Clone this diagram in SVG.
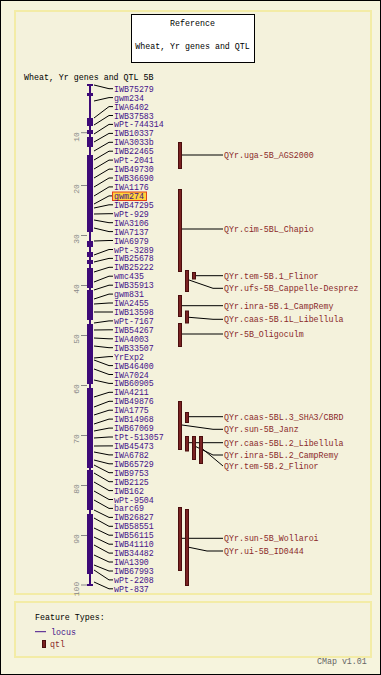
<svg xmlns="http://www.w3.org/2000/svg" width="381" height="675" viewBox="0 0 381 675">
<style>
text{font-family:"Liberation Mono","DejaVu Sans Mono",monospace;font-size:8.3px}
.t{fill:#000}
.m{fill:#45128a}
.q{fill:#8a2a2a}
.ax{fill:#888;font-size:8px}
.c{stroke:#000;stroke-width:1;fill:none}
.qb{fill:#7a2222;stroke:#4a0e0e;stroke-width:1}
.tick{stroke:#888;stroke-width:1}
.chr{fill:#3d0a78}
</style>
<rect x="0.5" y="0.5" width="380" height="674" fill="#f6f4dd" stroke="#000"/>
<rect x="15" y="11" width="356" height="583" fill="#f4f2dc" stroke="#f3eca6" stroke-width="2"/>
<rect x="15" y="602" width="356" height="55" fill="#f4f2dc" stroke="#f3eca6" stroke-width="2"/>
<g id="title">
<rect x="131.5" y="14.5" width="123" height="48" fill="#fff" stroke="#000"/>
<text class="t" x="192.5" y="26" text-anchor="middle">Reference</text>
<text class="t" x="192.5" y="49" text-anchor="middle">Wheat, Yr genes and QTL</text>
</g>
<text class="t" x="24" y="80">Wheat, Yr genes and QTL 5B</text>
<g id="axis">
<line class="tick" x1="81" y1="132.7" x2="87" y2="132.7"/><text class="ax" transform="rotate(-90 79 137)" x="79" y="137" text-anchor="middle">10</text>
<line class="tick" x1="81" y1="185.5" x2="87" y2="185.5"/><text class="ax" transform="rotate(-90 79 189)" x="79" y="189" text-anchor="middle">20</text>
<line class="tick" x1="81" y1="235.5" x2="87" y2="235.5"/><text class="ax" transform="rotate(-90 79 239)" x="79" y="239" text-anchor="middle">30</text>
<line class="tick" x1="81" y1="285.5" x2="87" y2="285.5"/><text class="ax" transform="rotate(-90 79 289)" x="79" y="289" text-anchor="middle">40</text>
<line class="tick" x1="81" y1="335.5" x2="87" y2="335.5"/><text class="ax" transform="rotate(-90 79 339)" x="79" y="339" text-anchor="middle">50</text>
<line class="tick" x1="81" y1="385.5" x2="87" y2="385.5"/><text class="ax" transform="rotate(-90 79 389)" x="79" y="389" text-anchor="middle">60</text>
<line class="tick" x1="81" y1="435.5" x2="87" y2="435.5"/><text class="ax" transform="rotate(-90 79 439)" x="79" y="439" text-anchor="middle">70</text>
<line class="tick" x1="81" y1="485.5" x2="87" y2="485.5"/><text class="ax" transform="rotate(-90 79 489)" x="79" y="489" text-anchor="middle">80</text>
<line class="tick" x1="81" y1="535.5" x2="87" y2="535.5"/><text class="ax" transform="rotate(-90 79 539)" x="79" y="539" text-anchor="middle">90</text>
<line class="tick" x1="81" y1="585" x2="87" y2="585"/><text class="ax" transform="rotate(-90 79 589)" x="79" y="589" text-anchor="middle">100</text>
</g>
<g id="chromosome">
<rect class="chr" x="89" y="85" width="2" height="500"/>
<rect class="chr" x="87" y="84" width="6" height="2"/>
<rect class="chr" x="87" y="584" width="6" height="2"/>
<rect class="chr" x="87" y="93" width="6" height="3"/>
<rect class="chr" x="87" y="118" width="6" height="8"/>
<rect class="chr" x="87" y="130" width="6" height="4"/>
<rect class="chr" x="87" y="137" width="6" height="10"/>
<rect class="chr" x="87" y="155" width="6" height="77"/>
<rect class="chr" x="87" y="241" width="6" height="6"/>
<rect class="chr" x="87" y="252" width="6" height="5"/>
<rect class="chr" x="87" y="260" width="6" height="4"/>
<rect class="chr" x="87" y="268" width="6" height="20"/>
<rect class="chr" x="87" y="290" width="6" height="30"/>
<rect class="chr" x="87" y="324" width="6" height="60"/>
<rect class="chr" x="87" y="388" width="6" height="80"/>
<rect class="chr" x="87" y="470" width="6" height="40"/>
<rect class="chr" x="87" y="514" width="6" height="60"/>
</g>
<g id="connectors">
<polyline class="c" points="94,85 109,88.7 113,88.7"/>
<polyline class="c" points="94,101 109,97.6 113,97.6"/>
<polyline class="c" points="94,118 109,106.6 113,106.6"/>
<polyline class="c" points="94,125 109,115.5 113,115.5"/>
<polyline class="c" points="94,134 109,124.4 113,124.4"/>
<polyline class="c" points="94,142 109,133.4 113,133.4"/>
<polyline class="c" points="94,151 109,142.3 113,142.3"/>
<polyline class="c" points="94,160 109,151.2 113,151.2"/>
<polyline class="c" points="94,169 109,160.1 113,160.1"/>
<polyline class="c" points="94,178 109,169.1 113,169.1"/>
<polyline class="c" points="94,187 109,178 113,178"/>
<polyline class="c" points="94,196 109,186.9 113,186.9"/>
<polyline class="c" points="94,204 109,195.9 112,195.9"/>
<polyline class="c" points="94,208 109,204.8 113,204.8"/>
<polyline class="c" points="94,214 109,213.7 113,213.7"/>
<polyline class="c" points="94,220 109,222.7 113,222.7"/>
<polyline class="c" points="94,228 109,231.6 113,231.6"/>
<polyline class="c" points="94,241 109,240.5 113,240.5"/>
<polyline class="c" points="94,255 109,249.5 113,249.5"/>
<polyline class="c" points="94,262 109,258.4 113,258.4"/>
<polyline class="c" points="94,272 109,267.3 113,267.3"/>
<polyline class="c" points="94,282 109,276.2 113,276.2"/>
<polyline class="c" points="94,290 109,285.2 113,285.2"/>
<polyline class="c" points="94,299 109,294.1 113,294.1"/>
<polyline class="c" points="94,304 109,303 113,303"/>
<polyline class="c" points="94,312 109,312 113,312"/>
<polyline class="c" points="94,323 109,320.9 113,320.9"/>
<polyline class="c" points="94,330 109,329.8 113,329.8"/>
<polyline class="c" points="94,338 109,338.8 113,338.8"/>
<polyline class="c" points="94,346 109,347.7 113,347.7"/>
<polyline class="c" points="94,358 109,356.6 113,356.6"/>
<polyline class="c" points="94,360 109,365.6 113,365.6"/>
<polyline class="c" points="94,369 109,374.5 113,374.5"/>
<polyline class="c" points="94,380 109,383.4 113,383.4"/>
<polyline class="c" points="94,397 109,392.3 113,392.3"/>
<polyline class="c" points="94,407 109,401.3 113,401.3"/>
<polyline class="c" points="94,415 109,410.2 113,410.2"/>
<polyline class="c" points="94,424 109,419.1 113,419.1"/>
<polyline class="c" points="94,431 109,428.1 113,428.1"/>
<polyline class="c" points="94,438 109,437 113,437"/>
<polyline class="c" points="94,446 109,445.9 113,445.9"/>
<polyline class="c" points="94,452 109,454.9 113,454.9"/>
<polyline class="c" points="94,460 109,463.8 113,463.8"/>
<polyline class="c" points="94,465 109,472.7 113,472.7"/>
<polyline class="c" points="94,473 109,481.7 113,481.7"/>
<polyline class="c" points="94,482 109,490.6 113,490.6"/>
<polyline class="c" points="94,491 109,499.5 113,499.5"/>
<polyline class="c" points="94,500 109,508.4 113,508.4"/>
<polyline class="c" points="94,510 109,517.4 113,517.4"/>
<polyline class="c" points="94,518 109,526.3 113,526.3"/>
<polyline class="c" points="94,528 109,535.2 113,535.2"/>
<polyline class="c" points="94,537 109,544.2 113,544.2"/>
<polyline class="c" points="94,545 109,553.1 113,553.1"/>
<polyline class="c" points="94,555 109,562 113,562"/>
<polyline class="c" points="94,565 109,571 113,571"/>
<polyline class="c" points="94,570 109,579.9 113,579.9"/>
<polyline class="c" points="94,582 109,588.8 113,588.8"/>
<polyline class="c" points="182,155 223,155"/>
<polyline class="c" points="182,229 223,229"/>
<polyline class="c" points="196,275.7 223,275.7"/>
<polyline class="c" points="189,280 213,288.3 223,288.3"/>
<polyline class="c" points="182,305.7 223,305.7"/>
<polyline class="c" points="189,317.3 213,319.3 223,319.3"/>
<polyline class="c" points="182,334 223,334"/>
<polyline class="c" points="189,416.7 223,416.7"/>
<polyline class="c" points="182,425 213,429.3 223,429.3"/>
<polyline class="c" points="189,442.7 223,442.7"/>
<polyline class="c" points="196,446.7 213,455 223,455"/>
<polyline class="c" points="203,449.3 223,466"/>
<polyline class="c" points="182,538.3 223,538.3"/>
<polyline class="c" points="189,547.3 207,551 223,551"/>
</g>
<g id="markers">
<text class="m" x="114" y="91.7">IWB75279</text>
<text class="m" x="114" y="100.6">gwm234</text>
<text class="m" x="114" y="109.6">IWA6402</text>
<text class="m" x="114" y="118.5">IWB37583</text>
<text class="m" x="114" y="127.4">wPt-744314</text>
<text class="m" x="114" y="136.4">IWB10337</text>
<text class="m" x="114" y="145.3">IWA3033b</text>
<text class="m" x="114" y="154.2">IWB22465</text>
<text class="m" x="114" y="163.1">wPt-2041</text>
<text class="m" x="114" y="172.1">IWB49730</text>
<text class="m" x="114" y="181">IWB36690</text>
<text class="m" x="114" y="189.9">IWA1176</text>
<g id="gwm274"><rect x="112.5" y="192" width="34" height="8.5" fill="#ffd23c" stroke="#e2401a"/>
<text class="m" x="114" y="198.9">gwm274</text></g>
<text class="m" x="114" y="207.8">IWB47295</text>
<text class="m" x="114" y="216.7">wPt-929</text>
<text class="m" x="114" y="225.7">IWA3106</text>
<text class="m" x="114" y="234.6">IWA7137</text>
<text class="m" x="114" y="243.5">IWA6979</text>
<text class="m" x="114" y="252.5">wPt-3289</text>
<text class="m" x="114" y="261.4">IWB25678</text>
<text class="m" x="114" y="270.3">IWB25222</text>
<text class="m" x="114" y="279.2">wmc435</text>
<text class="m" x="114" y="288.2">IWB35913</text>
<text class="m" x="114" y="297.1">gwm831</text>
<text class="m" x="114" y="306">IWA2455</text>
<text class="m" x="114" y="315">IWB13598</text>
<text class="m" x="114" y="323.9">wPt-7167</text>
<text class="m" x="114" y="332.8">IWB54267</text>
<text class="m" x="114" y="341.8">IWA4003</text>
<text class="m" x="114" y="350.7">IWB33507</text>
<text class="m" x="114" y="359.6">YrExp2</text>
<text class="m" x="114" y="368.6">IWB46400</text>
<text class="m" x="114" y="377.5">IWA7024</text>
<text class="m" x="114" y="386.4">IWB60905</text>
<text class="m" x="114" y="395.3">IWA4211</text>
<text class="m" x="114" y="404.3">IWB49876</text>
<text class="m" x="114" y="413.2">IWA1775</text>
<text class="m" x="114" y="422.1">IWB14968</text>
<text class="m" x="114" y="431.1">IWB67069</text>
<text class="m" x="114" y="440">tPt-513057</text>
<text class="m" x="114" y="448.9">IWB45473</text>
<text class="m" x="114" y="457.9">IWA6782</text>
<text class="m" x="114" y="466.8">IWB65729</text>
<text class="m" x="114" y="475.7">IWB9753</text>
<text class="m" x="114" y="484.7">IWB2125</text>
<text class="m" x="114" y="493.6">IWB162</text>
<text class="m" x="114" y="502.5">wPt-9504</text>
<text class="m" x="114" y="511.4">barc69</text>
<text class="m" x="114" y="520.4">IWB26827</text>
<text class="m" x="114" y="529.3">IWB58551</text>
<text class="m" x="114" y="538.2">IWB56115</text>
<text class="m" x="114" y="547.2">IWB41110</text>
<text class="m" x="114" y="556.1">IWB34482</text>
<text class="m" x="114" y="565">IWA1390</text>
<text class="m" x="114" y="574">IWB67993</text>
<text class="m" x="114" y="582.9">wPt-2208</text>
<text class="m" x="114" y="591.8">wPt-837</text>
</g>
<g id="qtl-uga"><rect class="qb" x="178.5" y="142.5" width="3" height="26"/><text class="q" x="224" y="158">QYr.uga-5B_AGS2000</text></g>
<g id="qtl-cim"><rect class="qb" x="178.5" y="189.5" width="3" height="82"/><text class="q" x="224" y="232">QYr.cim-5BL_Chapio</text></g>
<g id="qtl-tem1"><rect class="qb" x="192.5" y="272.5" width="3" height="6.5"/><text class="q" x="224" y="278.7">QYr.tem-5B.1_Flinor</text></g>
<g id="qtl-ufs"><rect class="qb" x="185.5" y="270.5" width="3" height="21"/><text class="q" x="224" y="291.3">QYr.ufs-5B_Cappelle-Desprez</text></g>
<g id="qtl-inra1"><rect class="qb" x="178.5" y="295.5" width="3" height="21"/><text class="q" x="224" y="308.7">QYr.inra-5B.1_CampRemy</text></g>
<g id="qtl-caas1"><rect class="qb" x="185.5" y="311" width="3" height="12"/><text class="q" x="224" y="322.3">QYr.caas-5B.1L_Libellula</text></g>
<g id="qtl-olig"><rect class="qb" x="178.5" y="323.5" width="3" height="23"/><text class="q" x="224" y="337">QYr-5B_Oligoculm</text></g>
<g id="qtl-caas3"><rect class="qb" x="185.5" y="412.5" width="3" height="10"/><text class="q" x="224" y="419.7">QYr.caas-5BL.3_SHA3/CBRD</text></g>
<g id="qtl-janz"><rect class="qb" x="178.5" y="401.5" width="3" height="48"/><text class="q" x="224" y="432.3">QYr.sun-5B_Janz</text></g>
<g id="qtl-caas2"><rect class="qb" x="185.5" y="436.5" width="3" height="14.5"/><text class="q" x="224" y="445.7">QYr.caas-5BL.2_Libellula</text></g>
<g id="qtl-inra2"><rect class="qb" x="192.5" y="436.5" width="3" height="23"/><text class="q" x="224" y="458">QYr.inra-5BL.2_CampRemy</text></g>
<g id="qtl-tem2"><rect class="qb" x="199.5" y="436.5" width="3" height="27"/><text class="q" x="224" y="469">QYr.tem-5B.2_Flinor</text></g>
<g id="qtl-woll"><rect class="qb" x="178.5" y="507.5" width="3" height="63"/><text class="q" x="224" y="541.3">QYr.sun-5B_Wollaroi</text></g>
<g id="qtl-ui"><rect class="qb" x="185.5" y="509.5" width="3" height="76"/><text class="q" x="224" y="554">QYr.ui-5B_ID0444</text></g>
<g id="legend">
<text class="t" x="35" y="620">Feature Types:</text>
<line x1="35" y1="631.7" x2="46" y2="631.7" stroke="#45128a" stroke-width="1"/>
<text class="m" x="51" y="634.5">locus</text>
<rect class="qb" x="42.5" y="640.5" width="3" height="7"/>
<text class="q" x="50" y="647">qtl</text>
</g>
<text x="317" y="664" fill="#666" font-size="8px">CMap v1.01</text>
</svg>
